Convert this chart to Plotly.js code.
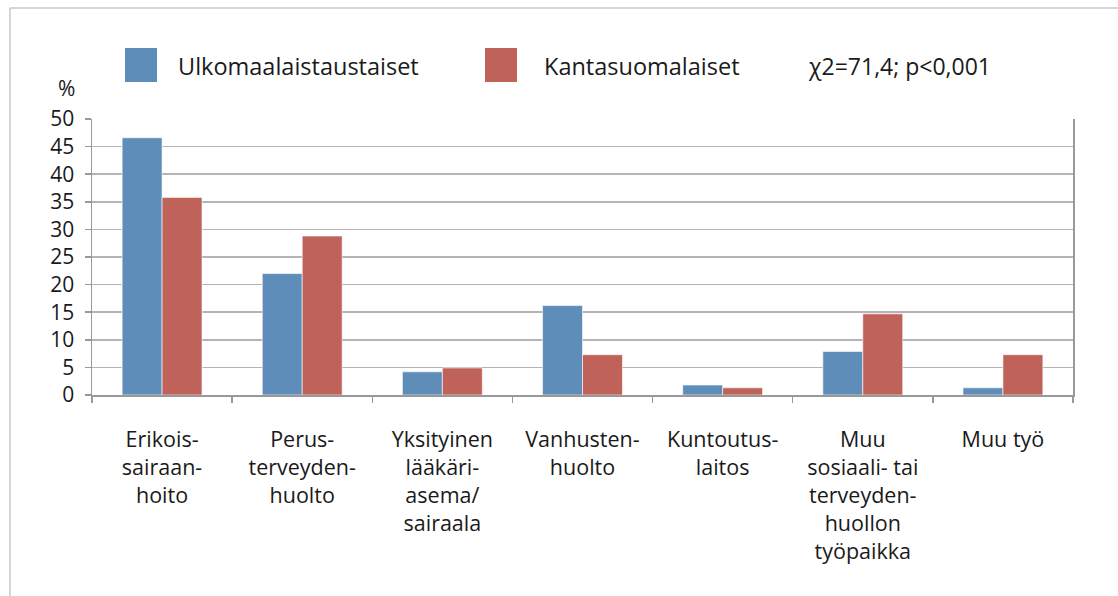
<!DOCTYPE html>
<html>
<head>
<meta charset="utf-8">
<script src="https://cdn.plot.ly/plotly-3.0.1.min.js"></script>
<style>
html,body{margin:0;padding:0;background:#fff;}
#chart{width:1118px;height:596px;}
</style>
</head>
<body>
<div id="chart"></div>
<script>
const categories = [
  "Erikois-<br>sairaan-<br>hoito",
  "Perus-<br>terveyden-<br>huolto",
  "Yksityinen<br>lääkäri-<br>asema/<br>sairaala",
  "Vanhusten-<br>huolto",
  "Kuntoutus-<br>laitos",
  "Muu<br>sosiaali- tai<br>terveyden-<br>huollon<br>työpaikka",
  "Muu työ"
];
const ulkomaalaistaustaiset = [46.6, 22.0, 4.2, 16.2, 1.8, 7.9, 1.3];
const kantasuomalaiset = [35.8, 28.8, 4.9, 7.3, 1.3, 14.7, 7.3];
const seriesNames = ["Ulkomaalaistaustaiset", "Kantasuomalaiset"];
const statText = "χ2=71,4; p<0,001";
const yTicks = [0,5,10,15,20,25,30,35,40,45,50];

const FONT = "Open Sans, Noto Sans, sans-serif";
const BLUE = "#5E8DB9";
const RED = "#BF6259";
const GRID = "#b4b4b4";

const L = 92, R = 1073, T = 119, B = 395, W = 1118, H = 596;
const px = x => (x - L) / (R - L);
const py = y => (B - y) / (B - T);

const traces = [
  {type:"bar", name:seriesNames[0], x:categories, y:ulkomaalaistaustaiset,
   marker:{color:BLUE, line:{color:"rgba(255,255,255,0.6)", width:1}}, hoverinfo:"y"},
  {type:"bar", name:seriesNames[1], x:categories, y:kantasuomalaiset,
   marker:{color:RED, line:{color:"rgba(255,255,255,0.6)", width:1}}, hoverinfo:"y"}
];

const layout = {
  width:W, height:H,
  margin:{l:L, r:W-R, t:T, b:H-B},
  paper_bgcolor:"#fff", plot_bgcolor:"#fff",
  showlegend:false,
  barmode:"group", bargap:0.43, bargroupgap:0,
  font:{family:FONT, color:"#1a1a1a"},
  xaxis:{
    type:"category", tickson:"boundaries", ticks:"outside", ticklen:6, tickcolor:"#999", tickwidth:1.5,
    showline:true, linecolor:"#999", linewidth:1.5, showgrid:false,
    tickfont:{size:21.5, color:"#1a1a1a", family:FONT}, tickangle:0, ticklabelstandoff:25,
    automargin:false
  },
  yaxis:{
    range:[0,50], tickvals:yTicks, ticktext:yTicks.map(String),
    ticks:"outside", ticklen:6, tickcolor:"#999", tickwidth:1.5,
    showline:true, linecolor:"#999", linewidth:1.5, mirror:true,
    gridcolor:GRID, gridwidth:1.5, zeroline:false,
    tickfont:{size:21, color:"#1a1a1a", family:FONT}, ticklabelstandoff:6,
    automargin:false
  },
  shapes:[
    {type:"line", xref:"paper", yref:"paper", x0:px(10), x1:px(10), y0:py(8), y1:py(600), line:{color:"#c8c8c8", width:1.5}},
    {type:"line", xref:"paper", yref:"paper", x0:px(10), x1:px(1120), y0:py(8), y1:py(8), line:{color:"#c8c8c8", width:1.5}},
    {type:"rect", xref:"paper", yref:"paper", x0:px(125), x1:px(157), y0:py(82), y1:py(48), fillcolor:BLUE, line:{width:0}},
    {type:"rect", xref:"paper", yref:"paper", x0:px(485), x1:px(517), y0:py(82), y1:py(48), fillcolor:RED, line:{width:0}}
  ],
  annotations:[
    {xref:"paper", yref:"paper", x:px(176), y:py(66), text:seriesNames[0], showarrow:false, xanchor:"left", yanchor:"middle", font:{size:23.5, family:FONT, color:"#1a1a1a"}},
    {xref:"paper", yref:"paper", x:px(542), y:py(66), text:seriesNames[1], showarrow:false, xanchor:"left", yanchor:"middle", font:{size:23.5, family:FONT, color:"#1a1a1a"}},
    {xref:"paper", yref:"paper", x:px(806), y:py(66), text:statText, showarrow:false, xanchor:"left", yanchor:"middle", font:{size:23, family:FONT, color:"#1a1a1a"}},
    {xref:"paper", yref:"paper", x:px(66), y:py(88), text:"%", showarrow:false, xanchor:"center", yanchor:"middle", font:{size:21, family:FONT, color:"#1a1a1a"}}
  ]
};

Plotly.newPlot("chart", traces, layout, {displayModeBar:false, staticPlot:true});
</script>
</body>
</html>
